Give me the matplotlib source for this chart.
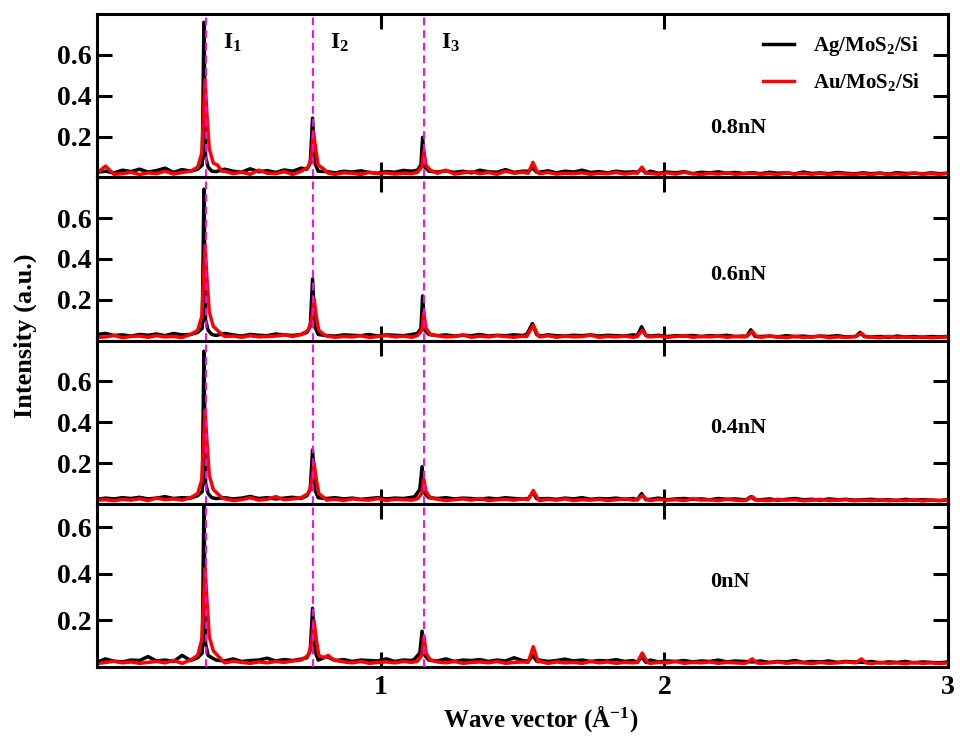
import matplotlib.pyplot as plt
import numpy as np

plt.rcParams['font.family'] = 'Liberation Serif'
plt.rcParams['font.weight'] = 'bold'
plt.rcParams['mathtext.fontset'] = 'custom'
plt.rcParams['mathtext.rm'] = 'Liberation Serif:bold'
plt.rcParams['mathtext.it'] = 'Liberation Serif:bold'
plt.rcParams['mathtext.bf'] = 'Liberation Serif:bold'

# background grid of the spectra, step 0.03 A^-1
grid = np.round(np.arange(0, 3.001, 0.03), 3)

# background intensities (x 1e-3)
ag08_bg = np.array([25,30,22,35,28,40,26,33,45,24,38,30,32,
                    35,28,40,30,25,42,27,33,24,36,30,45, 30,35,
                    28,22,30,26,32,24,20,28,25,34,30, 30,28,
                    26,32,24,30,22,35,27,25,38,24,30,
                    28,25,32,22,30,26,35,24,28,22,30,25,27,
                    24,30,20,26,22,28,18,25,22,27,20,24,19,
                    23,18,25,20,22,17,26,19,22,18,24,20,17,
                    22,18,21,16,23,19,20,17,22,18,20]) / 1000
au08_bg = np.array([20,55,15,18,25,14,22,18,30,16,24,20,45,
                    50,22,30,18,25,15,35,20,18,28,14,22, 20,25,
                    18,15,22,20,14,25,18,22,16,20,18, 22,18,
                    20,35,16,22,28,18,24,15,30,20,25,
                    22,18,24,16,20,18,22,15,20,18,24,16,22,
                    18,20,15,22,16,25,18,14,20,16,22,15,18,
                    20,15,18,14,22,16,19,15,20,14,18,16,15,
                    18,14,20,15,17,14,22,16,18,15,20]) / 1000
ag06_bg = np.array([30,35,25,28,22,30,26,32,24,35,28,30,38,
                    30,25,35,28,22,30,26,24,32,28,25,30, 30,30,
                    24,22,28,26,24,30,22,28,26,24,30, 28,26,
                    24,28,22,26,24,30,22,26,24,28,25,
                    26,22,28,24,22,26,24,28,22,26,24,22,28,
                    24,22,26,20,24,22,25,20,24,22,26,20,22,
                    24,20,22,18,24,20,22,18,22,20,24,18,20,
                    22,18,20,16,22,18,20,16,20,18,20]) / 1000
au06_bg = np.array([15,18,25,14,20,22,16,24,18,20,15,22,30,
                    25,30,20,22,16,24,18,20,22,28,20,18, 20,20,
                    22,16,20,18,24,15,20,25,18,22,16, 20,18,
                    24,18,20,28,16,22,18,24,20,16,22,
                    20,18,24,16,22,18,20,26,16,20,18,22,16,
                    20,18,22,16,20,24,16,20,18,22,16,20,18,
                    20,16,22,18,15,20,16,18,22,14,18,16,20,
                    16,18,14,20,16,18,15,18,14,16,18]) / 1000
ag04_bg = np.array([22,28,24,30,26,32,24,28,35,26,30,28,34,
                    32,26,30,24,28,36,26,30,24,28,32,26, 30,30,
                    26,30,24,28,22,26,30,24,28,26,32, 30,28,
                    26,30,24,28,26,22,28,24,30,26,24,
                    28,24,26,22,28,24,30,22,26,24,28,22,26,
                    24,22,28,20,24,26,22,24,20,26,22,24,20,
                    22,20,24,18,22,26,20,22,18,24,20,22,18,
                    20,22,18,20,16,22,18,20,18,16,20]) / 1000
au04_bg = np.array([18,20,15,22,18,25,16,28,20,24,18,22,26,
                    22,18,24,16,20,30,18,22,35,20,24,18, 20,20,
                    18,22,16,24,20,18,26,16,22,20,18, 20,18,
                    22,16,20,24,18,26,16,20,22,18,24,
                    20,16,22,18,24,16,20,18,22,16,20,24,18,
                    20,16,22,18,20,16,24,18,20,16,22,18,16,
                    20,18,16,22,18,20,15,18,22,16,18,20,15,
                    18,16,20,15,18,16,20,14,18,16,18]) / 1000
ag00_bg = np.array([20,35,25,22,30,28,45,26,30,24,50,28,32,
                    40,30,26,35,24,28,30,38,26,32,28,34, 30,30,
                    45,28,32,24,30,28,26,35,24,30,28, 30,28,
                    26,35,24,30,28,32,24,30,26,40,28,
                    26,30,24,28,34,26,30,24,28,26,32,24,28,
                    26,30,22,26,24,28,22,26,24,30,22,26,24,
                    22,26,20,24,22,28,20,24,22,26,20,24,22,
                    20,24,18,22,20,24,18,22,20,18,22]) / 1000
au00_bg = np.array([15,20,25,18,22,16,20,24,18,28,16,20,30,
                    28,22,18,25,20,16,22,18,24,20,26,18, 20,20,
                    40,35,22,18,24,16,20,22,18,24,20, 20,18,
                    22,18,24,16,20,22,18,24,16,20,22,
                    18,24,16,22,18,20,16,24,18,22,16,20,18,
                    22,16,20,18,24,16,20,18,22,16,20,18,16,
                    20,16,18,22,16,20,18,15,20,16,18,22,16,
                    18,15,20,16,18,14,20,16,18,15,18]) / 1000

# peak shapes as (x, intensity) points
ag08_peaks = [[(0.355, .04), (0.371, .06), (0.377, .76), (0.383, .10), (0.392, .05), (0.405, .03)],
              [(0.74, .04), (0.752, .07), (0.760, .29), (0.768, .07), (0.78, .03)],
              [(1.13, .035), (1.142, .06), (1.148, .196), (1.156, .05), (1.17, .03)],
              [(1.52, .03), (1.537, .045), (1.55, .025)],
              [(1.905, .025), (1.92, .04), (1.935, .02)]]
au08_peaks = [[(0.33, .03), (0.355, .05), (0.37, .12), (0.381, .48), (0.388, .30), (0.396, .14),
               (0.41, .07), (0.425, .06), (0.44, .03)],
              [(0.72, .03), (0.745, .05), (0.756, .10), (0.763, .225), (0.771, .14), (0.78, .06),
               (0.80, .04), (0.815, .02)],
              [(1.13, .025), (1.145, .05), (1.152, .128), (1.16, .06), (1.175, .035)],
              [(1.52, .02), (1.537, .073), (1.552, .025)],
              [(1.905, .02), (1.921, .05), (1.935, .02)]]
ag06_peaks = [[(0.355, .04), (0.371, .06), (0.377, .742), (0.383, .10), (0.392, .05), (0.405, .03)],
              [(0.74, .04), (0.752, .07), (0.760, .302), (0.768, .07), (0.78, .03)],
              [(1.13, .035), (1.142, .06), (1.148, .219), (1.156, .05), (1.17, .03)],
              [(1.515, .03), (1.535, .083), (1.55, .03)],
              [(1.905, .025), (1.92, .068), (1.935, .025)],
              [(2.29, .02), (2.305, .053), (2.32, .02)],
              [(2.675, .02), (2.69, .04), (2.705, .02)]]
au06_peaks = [[(0.33, .03), (0.355, .05), (0.37, .12), (0.381, .468), (0.388, .30), (0.396, .14),
               (0.41, .07), (0.425, .05), (0.44, .03)],
              [(0.72, .03), (0.745, .05), (0.756, .10), (0.765, .205), (0.773, .12), (0.782, .05),
               (0.80, .03)],
              [(1.13, .025), (1.145, .05), (1.152, .136), (1.16, .06), (1.175, .03)],
              [(1.515, .02), (1.538, .075), (1.555, .025)],
              [(1.905, .02), (1.922, .05), (1.94, .02)],
              [(2.29, .02), (2.31, .045), (2.325, .02)],
              [(2.675, .02), (2.695, .035), (2.71, .018)]]
ag04_peaks = [[(0.355, .04), (0.371, .06), (0.377, .748), (0.383, .10), (0.392, .05), (0.405, .03)],
              [(0.74, .04), (0.752, .07), (0.760, .264), (0.768, .07), (0.78, .03)],
              [(1.12, .035), (1.138, .07), (1.146, .182), (1.156, .05), (1.17, .03)],
              [(1.52, .025), (1.537, .055), (1.55, .025)],
              [(1.905, .02), (1.92, .05), (1.935, .02)],
              [(2.29, .02), (2.305, .035), (2.32, .02)]]
au04_peaks = [[(0.33, .03), (0.355, .05), (0.37, .12), (0.381, .459), (0.388, .30), (0.396, .14),
               (0.41, .07), (0.425, .05), (0.44, .03)],
              [(0.72, .03), (0.745, .05), (0.756, .10), (0.765, .20), (0.773, .12), (0.782, .05),
               (0.80, .03)],
              [(1.13, .025), (1.145, .05), (1.152, .12), (1.16, .06), (1.175, .03)],
              [(1.52, .02), (1.538, .065), (1.555, .022)],
              [(1.905, .02), (1.922, .04), (1.94, .02)],
              [(2.29, .018), (2.31, .035), (2.325, .018)]]
ag00_peaks = [[(0.355, .04), (0.371, .06), (0.377, .70), (0.383, .10), (0.392, .05), (0.405, .04)],
              [(0.74, .04), (0.752, .07), (0.760, .252), (0.768, .07), (0.78, .03)],
              [(1.12, .035), (1.138, .06), (1.146, .154), (1.156, .05), (1.17, .03)],
              [(1.52, .025), (1.537, .05), (1.55, .025)],
              [(1.905, .02), (1.92, .045), (1.935, .02)]]
au00_peaks = [[(0.33, .03), (0.355, .05), (0.37, .12), (0.381, .424), (0.388, .28), (0.396, .13),
               (0.41, .07), (0.425, .05), (0.44, .03)],
              [(0.72, .03), (0.745, .05), (0.756, .10), (0.765, .20), (0.773, .12), (0.782, .05),
               (0.80, .04), (0.815, .05), (0.835, .03)],
              [(1.13, .025), (1.145, .05), (1.153, .13), (1.16, .06), (1.175, .03)],
              [(1.52, .02), (1.538, .087), (1.555, .022)],
              [(1.905, .02), (1.922, .06), (1.94, .02)],
              [(2.29, .018), (2.31, .035), (2.325, .018)],
              [(2.675, .018), (2.695, .035), (2.71, .018)]]

loads = ['0.8nN', '0.6nN', '0.4nN', '0nN']
ag_bg = [ag08_bg, ag06_bg, ag04_bg, ag00_bg]
au_bg = [au08_bg, au06_bg, au04_bg, au00_bg]
ag_peaks = [ag08_peaks, ag06_peaks, ag04_peaks, ag00_peaks]
au_peaks = [au08_peaks, au06_peaks, au04_peaks, au00_peaks]
ytops = [0.8, 0.8, 0.8, 0.7]
load_y = [0.244, 0.32, 0.37, 0.363]

peak_lines = [0.384, 0.762, 1.152]
peak_names = ['I$_1$', 'I$_2$', 'I$_3$']


def build(bg, peaks):
    keep = np.ones(len(grid), bool)
    px, py = [], []
    for pk in peaks:
        xs = [p[0] for p in pk]
        keep &= ~((grid >= min(xs) - 0.005) & (grid <= max(xs) + 0.005))
        px += xs
        py += [p[1] for p in pk]
    x = np.concatenate([grid[keep], px])
    y = np.concatenate([bg[keep], py])
    order = np.argsort(x)
    return x[order], y[order]


fig, axes = plt.subplots(4, 1, figsize=(9.6, 7.42), dpi=100, sharex=True)
fig.subplots_adjust(left=0.101, right=0.9875, top=0.981, bottom=0.101, hspace=0)

for i, ax in enumerate(axes):
    x, y = build(ag_bg[i], ag_peaks[i])
    ax.plot(x, y, color='black', lw=2.5, label='Ag/MoS$_2$/Si')
    x, y = build(au_bg[i], au_peaks[i])
    ax.plot(x, y, color='red', lw=2.5, label='Au/MoS$_2$/Si')
    for xv in peak_lines:
        ax.axvline(xv, color='#ff00ff', lw=1.4, dashes=(4, 2.5), zorder=5)
    ax.set_xlim(0, 3)
    ax.set_ylim(0, ytops[i])
    ax.set_yticks([0.2, 0.4, 0.6])
    ax.set_xticks([1, 2, 3])
    ax.tick_params(direction='in', length=11, width=2.2, top=True, right=True,
                   labelsize=20, pad=4)
    for sp in ax.spines.values():
        sp.set_linewidth(2.2)
    ax.text(2.16, load_y[i], loads[i], fontsize=16, fontweight='bold', va='center')

axes[-1].tick_params(axis='x', labelsize=20, pad=6)

for xv, name in zip(peak_lines, peak_names):
    axes[0].text(xv + 0.06, 0.66, name, fontsize=17, fontweight='bold', va='center')

axes[0].legend(loc='upper left', bbox_to_anchor=(0.77, 0.94), frameon=False,
               fontsize=15, handlelength=1.5, handletextpad=0.9, labelspacing=0.6,
               borderpad=0)

fig.text(0.026, 0.548, 'Intensity (a.u.)', rotation=90, fontsize=19, fontweight='bold',
         va='center', ha='center')
fig.text(0.563, 0.032, 'Wave vector (Å$^{-1}$)', fontsize=18, fontweight='bold',
         va='center', ha='center')

fig.savefig('out.png', dpi=100)
